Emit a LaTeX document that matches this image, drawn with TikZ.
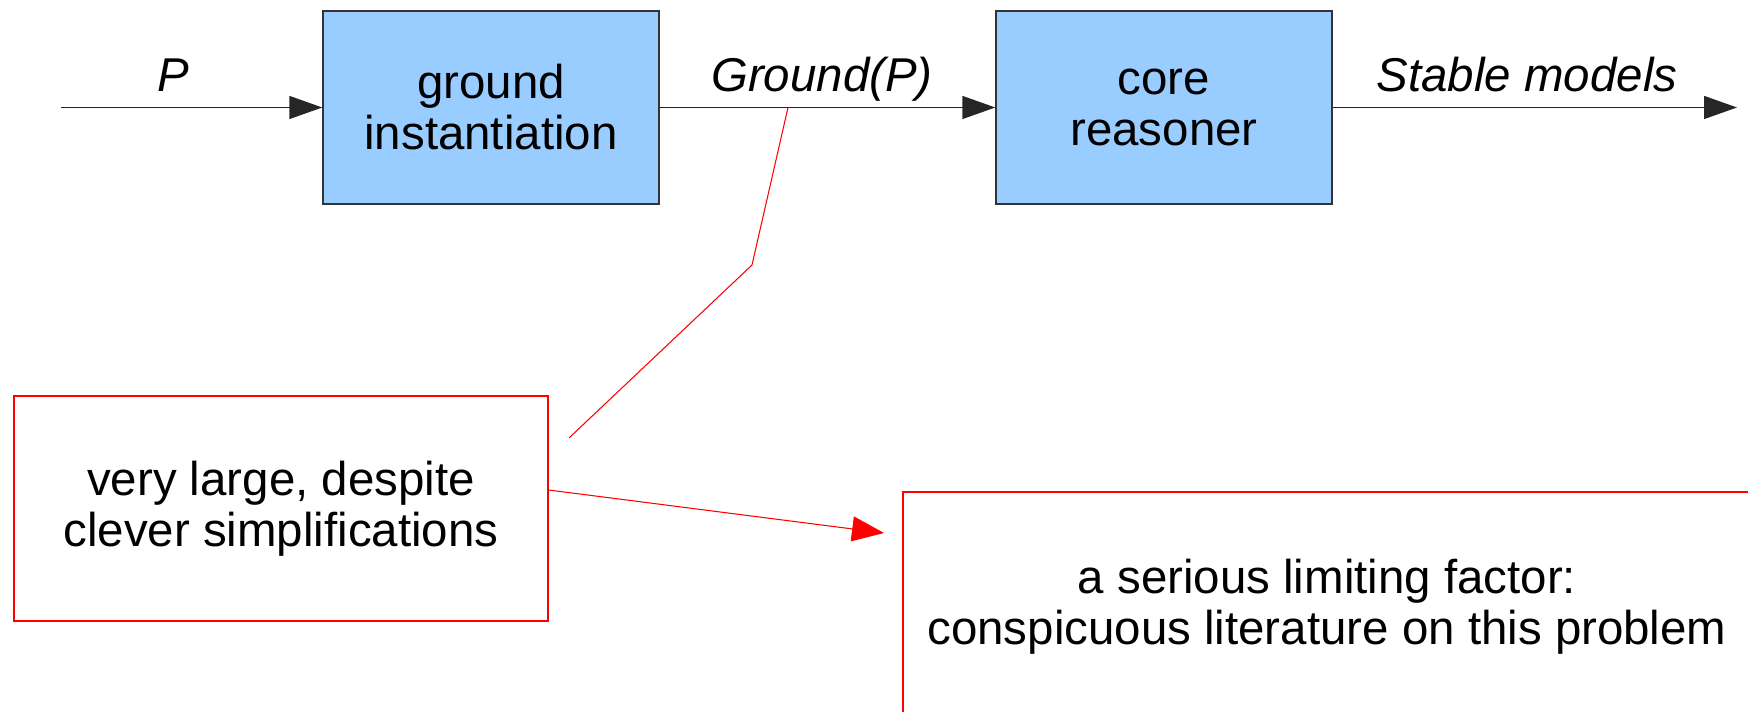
\documentclass[tikz,border=0pt]{standalone}
\usepackage{fontspec}
\setmainfont{Liberation Sans}
\usetikzlibrary{arrows.meta}

\definecolor{bloccoblu}{HTML}{99CCFF}

\begin{document}
\begin{tikzpicture}[
    testo/.style={font=\fontsize{27}{29}\selectfont},
    blocco/.style={testo, draw=black!80, fill=bloccoblu, line width=0.8pt,
        minimum width=6.72cm, minimum height=3.86cm, align=center},
    nota/.style={testo, draw=red, line width=0.6pt, align=center},
    flusso/.style={-{Triangle[length=0.66cm,width=0.46cm]}, line width=0.8pt, black!85},
    etichetta/.style={testo, anchor=base, font=\fontsize{27}{29}\selectfont\itshape}
]

    \useasboundingbox (0,0) rectangle (34.96,14.24);
    \clip (0,0) rectangle (34.96,14.24);

    % Blocchi
    \node[blocco] (ground) at (9.82,12.09) {ground\\instantiation};
    \node[blocco] (core) at (23.28,12.09) {core\\reasoner};

    % Ingresso e uscita
    \coordinate (in) at (1.22,12.09);
    \coordinate (out) at (34.74,12.09);
    \draw[flusso] (in) -- (ground);
    \draw[flusso] (ground) -- (core);
    \draw[flusso] (core) -- (out);

    % Etichette sui flussi
    \node[etichetta] (p) at (3.46,12.41) {P};
    \node[etichetta] (gp) at (16.44,12.41) {Ground(P)};
    \node[etichetta] (sm) at (30.54,12.41) {Stable models};

    % Note
    \node[nota, minimum width=10.68cm, minimum height=4.5cm] (grande) at (5.62,4.07)
        {very large, despite\\clever simplifications};
    \node[nota, minimum width=16.96cm, minimum height=4.6cm] (limite) at (26.54,2.1)
        {a serious limiting factor:\\conspicuous literature on this problem};

    % Richiamo verso Ground(P)
    \coordinate (aggancio) at (15.76,12.09);
    \coordinate (gomito) at (15.04,8.94);
    \coordinate (capo) at (11.38,5.48);
    \draw[red, line width=0.6pt] (aggancio) -- (gomito) -- (capo);

    % Freccia tra le note
    \coordinate (punta) at (17.68,3.58);
    \draw[red, line width=0.6pt, -{Triangle[length=0.64cm,width=0.5cm]}]
        ([yshift=0.37cm]grande.east) -- (punta);

\end{tikzpicture}
\end{document}
